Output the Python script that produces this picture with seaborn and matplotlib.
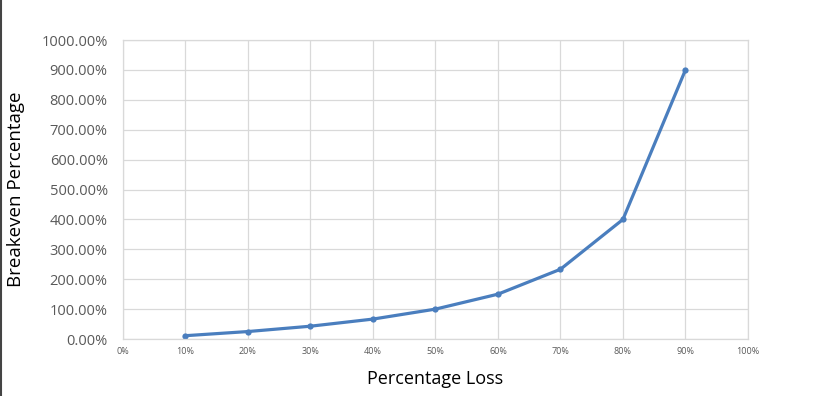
import numpy as np
import pandas as pd
import matplotlib
matplotlib.use('Agg')
import matplotlib.pyplot as plt
import seaborn as sns
from matplotlib.ticker import FuncFormatter, MultipleLocator
from matplotlib.lines import Line2D

# values (percent)
pct_loss = [10, 20, 30, 40, 50, 60, 70, 80, 90]
breakeven = [11.11, 25.0, 42.86, 66.67, 100.0, 150.0, 233.33, 400.0, 900.0]

df = pd.DataFrame({'loss': pct_loss, 'breakeven': breakeven})

sns.set_style('white')
plt.rcParams['font.family'] = ['Open Sans', 'DejaVu Sans']

fig = plt.figure(figsize=(8.4, 3.96), dpi=100)
ax = fig.add_axes([0.1464, 0.1439, 0.744, 0.755])

sns.lineplot(data=df, x='loss', y='breakeven', ax=ax, color='#4a7ebe',
             linewidth=2.3, marker='o', markersize=4.5, markeredgewidth=0)

ax.set_xlim(0, 100)
ax.set_ylim(0, 1000)
ax.xaxis.set_major_locator(MultipleLocator(10))
ax.yaxis.set_major_locator(MultipleLocator(100))
ax.xaxis.set_major_formatter(FuncFormatter(lambda v, p: f'{v:.0f}%'))
ax.yaxis.set_major_formatter(FuncFormatter(lambda v, p: f'{v:.2f}%'))
ax.grid(True, color='#d9d9d9', linewidth=0.9)
ax.set_axisbelow(True)
for s in ax.spines.values():
    s.set_color('#d9d9d9')
    s.set_linewidth(0.9)
ax.tick_params(axis='x', labelsize=6.5, colors='#595959', length=0, pad=6)
ax.tick_params(axis='y', labelsize=10.5, colors='#595959', length=0, pad=11)

ax.set_xlabel('Percentage Loss', fontsize=13, color='#000000', labelpad=10)
ax.set_ylabel('Breakeven Percentage', fontsize=13.5, color='#000000', labelpad=12)

# dark frame edge on the left of the image
fig.add_artist(Line2D([0.0012, 0.0012], [0, 1], transform=fig.transFigure,
                      color='#444444', linewidth=1.5))

fig.savefig('out.png', dpi=100)
